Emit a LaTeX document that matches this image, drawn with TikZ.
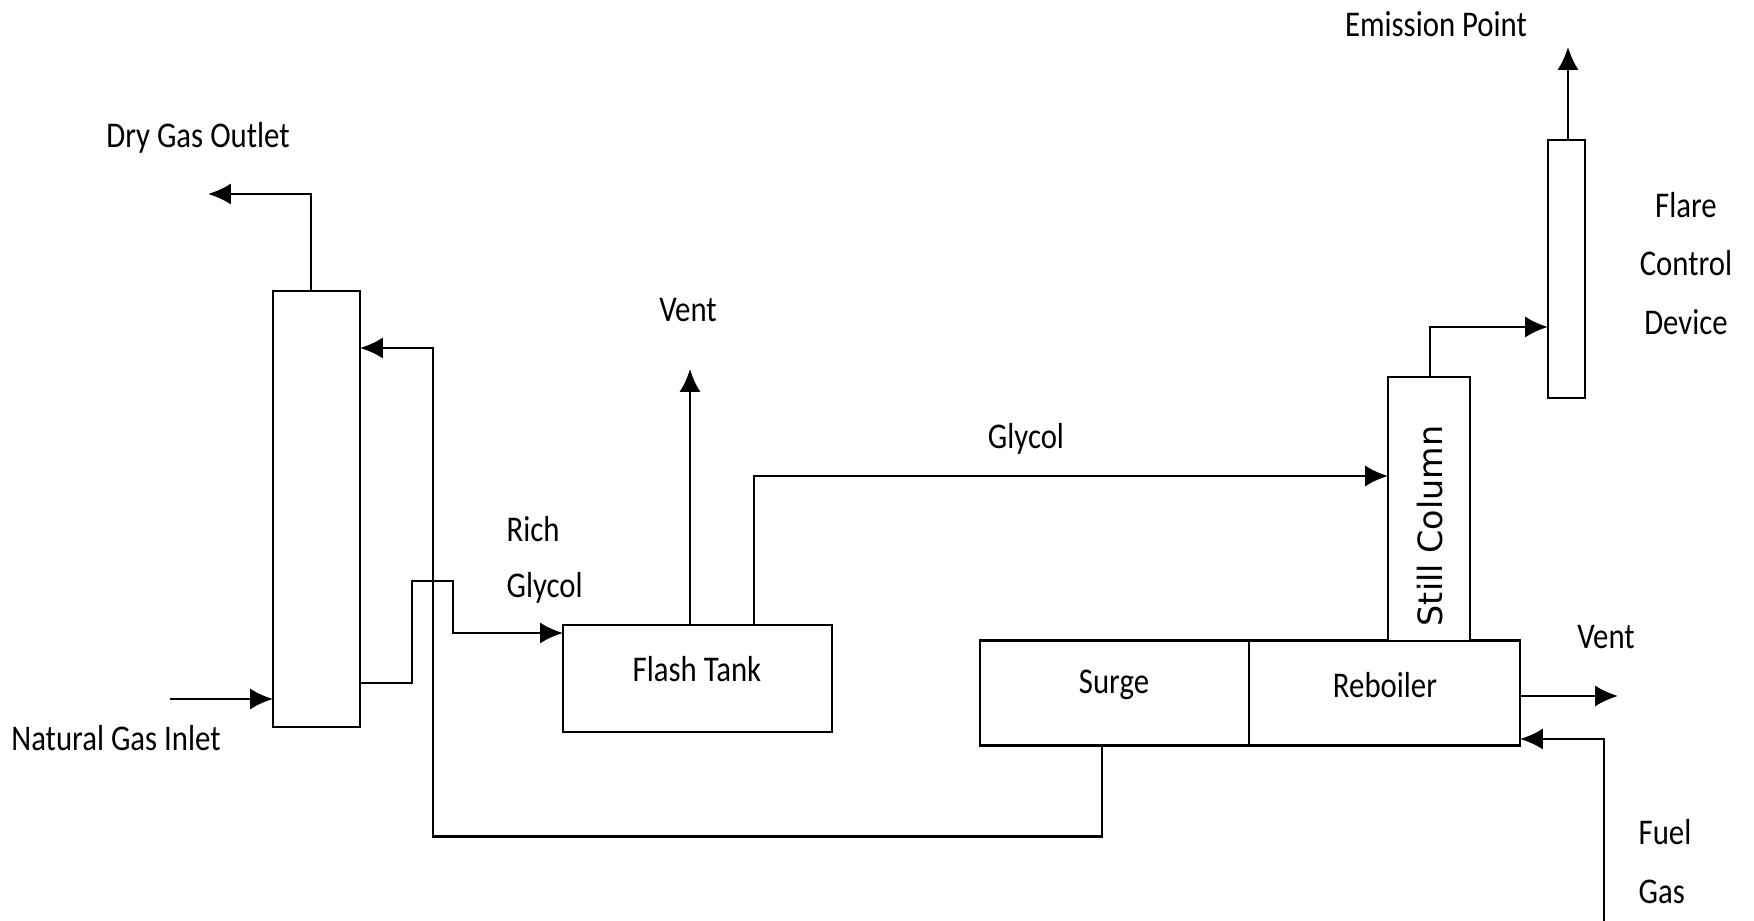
\documentclass[tikz,border=0pt]{standalone}
\usepackage{fontspec}
\setmainfont[FakeStretch=0.85]{Carlito}
\newfontfamily\stillfont{DejaVu Sans}
\usetikzlibrary{arrows.meta,positioning}

\begin{document}
\begin{tikzpicture}[
  font=\fontsize{10.3pt}{11pt}\selectfont,
  unit/.style={rectangle, draw, line width=0.75pt, inner sep=0pt, outer sep=0pt, fill=white},
  arr/.style={-{Latex[length=6.5pt,width=6pt]}, line width=0.75pt},
  lbl/.style={inner sep=0pt}
]
\useasboundingbox (0,0) rectangle (17.54,9.21);

% --- Nodes ---
\node[unit, minimum width=0.87cm, minimum height=4.36cm] (contactor) at (3.165,4.12) {};
\node[unit, minimum width=2.69cm, minimum height=1.07cm] (flash) at (6.975,2.425) {};
\node[lbl] (flashlbl) at (6.97,2.52) {Flash Tank};

% Surge and reboiler
\node[unit, minimum width=2.69cm, minimum height=1.05cm] (surge) at (11.145,2.28) {};
\node[unit, minimum width=2.71cm, minimum height=1.05cm, right=0pt of surge] (reboiler) {};
\node[lbl] (surgelbl) at (11.14,2.36) {Surge};
\node[lbl] (reboilerlbl) at (13.85,2.36) {Reboiler};

% Still column and flare
\node[unit, minimum width=0.82cm, minimum height=2.64cm] (still) at (14.29,4.12) {};
\node[lbl, rotate=90, font=\stillfont\fontsize{9.5pt}{10pt}\selectfont] (stilllbl) at (14.30,3.95) {Still Column};
\node[unit, minimum width=0.37cm, minimum height=2.58cm] (flare) at (15.665,6.52) {};

% --- Labels ---
\node[lbl] (drygas) at (1.98,7.83) {Dry Gas Outlet};
\node[lbl] (natgas) at (1.16,1.83) {Natural Gas Inlet};
\node[lbl] (ventflash) at (6.88,6.11) {Vent};
\node[lbl, anchor=west] (rich) at (5.06,3.92) {Rich};
\node[lbl, anchor=west] (richb) at (5.06,3.33) {Glycol};
\node[lbl] (glycol) at (10.26,4.82) {Glycol};
\node[lbl] (emission) at (14.36,8.97) {Emission Point};
\node[lbl] (flarea) at (16.86,7.16) {Flare};
\node[lbl, below=0.31cm of flarea] (flareb) {Control};
\node[lbl, below=0.33cm of flareb] (flarec) {Device};
\node[lbl] (ventreb) at (16.06,2.84) {Vent};
\node[lbl, anchor=west] (fuel) at (16.38,0.89) {Fuel};
\node[lbl, anchor=west] (fuelb) at (16.38,0.29) {Gas};

% --- Free ends ---
\coordinate (drytip) at (2.08,7.27);
\coordinate (natin) at (1.70,2.22);
\coordinate (leanin) at (3.60,5.73);
\coordinate (richout) at (3.60,2.38);
\coordinate (richin) at (5.63,2.88);
\coordinate (venttip) at (6.90,5.52);
\coordinate (glycolout) at (7.54,2.96);
\coordinate (glycolin) at (13.88,4.45);
\coordinate (surgeout) at (11.02,1.755);
\coordinate (stillout) at (14.30,5.44);
\coordinate (flarein) at (15.48,5.94);
\coordinate (flareout) at (15.68,7.81);
\coordinate (flaretip) at (15.68,8.74);
\coordinate (ventout) at (15.20,2.25);
\coordinate (venttipb) at (16.18,2.25);
\coordinate (fuelin) at (15.20,1.82);
\coordinate (fuelend) at (16.04,0);

% --- Arrows ---
\draw[arr] (contactor.north -| 3.11,0) |- (drytip);
\draw[arr] (natin) -- (natin -| contactor.west);
\draw[arr] (surgeout) -- ++(0,-0.91) -| (4.33,5.73) -- (leanin);
\draw[arr] (richout) -- ++(0.52,0) -- ++(0,1.02) -- ++(0.41,0) |- (richin);
\draw[arr] (venttip |- flash.north) -- (venttip);
\draw[arr] (glycolout) |- (glycolin);
\draw[arr] (stillout) |- (flarein);
\draw[arr] (flareout) -- (flaretip);
\draw[arr] (ventout) -- (venttipb);
\draw[arr] (fuelend) |- (fuelin);
\end{tikzpicture}
\end{document}
